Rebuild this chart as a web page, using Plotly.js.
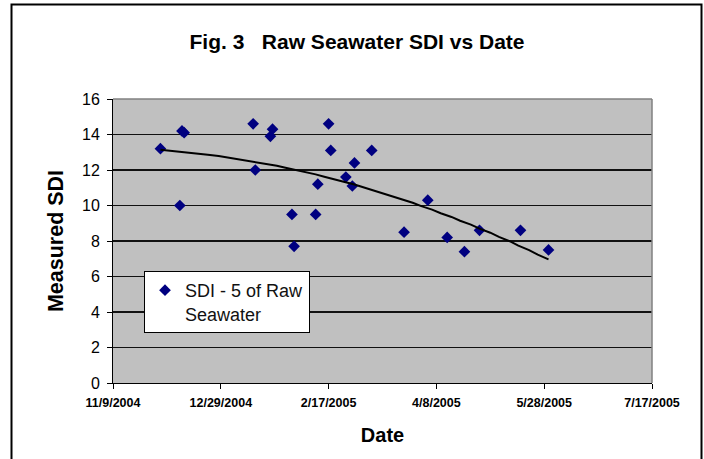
<!DOCTYPE html>
<html>
<head>
<meta charset="utf-8">
<script src="https://cdn.plot.ly/plotly-3.0.1.min.js"></script>
<style>
  html, body { margin: 0; padding: 0; background: #fff; }
  #chart { width: 704px; height: 459px; }
</style>
</head>
<body>
<div id="chart"></div>
<script>
// ---- data ----
const sampleDates = ['2004-12-01','2004-12-11','2004-12-12','2004-12-10','2005-01-13','2005-01-14',
  '2005-01-22','2005-01-21','2005-01-31','2005-02-01','2005-02-11','2005-02-12','2005-02-17',
  '2005-02-18','2005-02-25','2005-02-28','2005-03-01','2005-03-09','2005-03-24','2005-04-04',
  '2005-04-13','2005-04-21','2005-04-28','2005-05-17','2005-05-30'];
const sdiValues = [13.2,14.2,14.1,10.0,14.6,12.0,14.3,13.9,9.5,7.7,9.5,11.2,14.6,13.1,11.6,11.1,
  12.4,13.1,8.5,10.3,8.2,7.4,8.6,8.6,7.5];
const tickDates = ['2004-11-09','2004-12-29','2005-02-17','2005-04-08','2005-05-28','2005-07-17'];
const tickLabels = ['11/9/2004','12/29/2004','2/17/2005','4/8/2005','5/28/2005','7/17/2005'];
const seriesName = 'SDI - 5 of Raw<br>Seawater';

// ---- polynomial (order 2) trendline fitted to the data ----
const DAY = 86400000;
const t0 = Date.parse(sampleDates[0] + 'T00:00:00Z');
const xs = sampleDates.map(d => (Date.parse(d + 'T00:00:00Z') - t0) / DAY);
function polyfit(x, y, deg) {
  const n = deg + 1;
  const A = Array.from({length: n}, () => new Array(n + 1).fill(0));
  for (let i = 0; i < x.length; i++) {
    for (let r = 0; r < n; r++) {
      for (let c = 0; c < n; c++) A[r][c] += Math.pow(x[i], r + c);
      A[r][n] += y[i] * Math.pow(x[i], r);
    }
  }
  for (let p = 0; p < n; p++) {
    let m = p;
    for (let r = p + 1; r < n; r++) if (Math.abs(A[r][p]) > Math.abs(A[m][p])) m = r;
    [A[p], A[m]] = [A[m], A[p]];
    for (let r = 0; r < n; r++) {
      if (r === p) continue;
      const f = A[r][p] / A[p][p];
      for (let c = p; c <= n; c++) A[r][c] -= f * A[p][c];
    }
  }
  return A.map((row, i) => row[n] / row[i]);
}
const coef = polyfit(xs, sdiValues, 2);
const xMin = Math.min(...xs), xMax = Math.max(...xs);
const trendX = [], trendY = [];
const steps = 40;
for (let i = 0; i <= steps; i++) {
  const d = xMin + (xMax - xMin) * i / steps;
  trendX.push(new Date(t0 + d * DAY).toISOString().slice(0, 10));
  trendY.push(coef[0] + coef[1] * d + coef[2] * d * d);
}

// ---- plot geometry (pixels) ----
const W = 704, H = 459;
const M = {l: 113, r: 52, t: 99, b: 76};
const pw = W - M.l - M.r, ph = H - M.t - M.b;
const px = v => (v - M.l) / pw;          // pixel x -> paper
const py = v => (H - M.b - v) / ph;      // pixel y -> paper
const SANS = '"Liberation Sans", Arial, sans-serif';

const traces = [
  {
    x: sampleDates, y: sdiValues, type: 'scatter', mode: 'markers', name: seriesName,
    marker: {symbol: 'diamond', size: 9, color: '#000080'}
  },
  {
    x: trendX, y: trendY, type: 'scatter', mode: 'lines', showlegend: false, hoverinfo: 'skip',
    line: {color: '#000000', width: 2}
  }
];

const layout = {
  width: W, height: H,
  margin: M,
  paper_bgcolor: '#ffffff',
  plot_bgcolor: '#c0c0c0',
  showlegend: true,
  title: {
    text: '<b>Fig. 3&nbsp;&nbsp;&nbsp;Raw Seawater SDI vs Date</b>',
    font: {family: SANS, size: 21, color: '#000'},
    x: px(357), xref: 'paper', xanchor: 'center',
    y: 1 - 42 / H, yref: 'container', yanchor: 'middle'
  },
  xaxis: {
    type: 'date',
    range: [tickDates[0], tickDates[tickDates.length - 1]],
    tickmode: 'array', tickvals: tickDates, ticktext: tickLabels,
    ticks: 'outside', ticklen: 5, tickcolor: '#000', tickwidth: 1,
    showline: true, linecolor: '#000', linewidth: 1,
    showgrid: false, zeroline: false,
    tickfont: {family: SANS, size: 12.5, color: '#000', weight: 'bold'},
    ticklabelstandoff: 3,
    title: {
      text: '<b>Date</b>', standoff: 18,
      font: {family: SANS, size: 20, color: '#000'}
    },
    fixedrange: true
  },
  yaxis: {
    range: [0, 16], dtick: 2, tick0: 0,
    ticks: 'outside', ticklen: 5, tickcolor: '#000', tickwidth: 1,
    showline: true, linecolor: '#000', linewidth: 1,
    showgrid: true, gridcolor: '#111111', gridwidth: 1.5,
    zeroline: false,
    tickfont: {family: SANS, size: 16, color: '#000'},
    ticklabelstandoff: 4,
    title: {
      text: '<b>Measured SDI</b>', standoff: 12,
      font: {family: SANS, size: 21.5, color: '#000'}
    },
    fixedrange: true
  },
  legend: {
    x: px(144), y: py(271), xanchor: 'left', yanchor: 'top',
    bgcolor: '#ffffff', bordercolor: '#000000', borderwidth: 1,
    font: {family: SANS, size: 18, color: '#111'},
    valign: 'top',
    itemwidth: 30, tracegroupgap: 0
  },
  shapes: [
    // gray top and right edges of the plot area
    {type: 'line', xref: 'paper', yref: 'paper', x0: 0, x1: 1, y0: 1, y1: 1, layer: 'above',
     line: {color: '#808080', width: 1.5}},
    {type: 'line', xref: 'paper', yref: 'paper', x0: 1, x1: 1, y0: 0, y1: 1, layer: 'above',
     line: {color: '#808080', width: 1.5}},
    // outer chart frame
    {type: 'rect', xref: 'paper', yref: 'paper', x0: px(11.5), x1: px(701.5), y0: py(463), y1: py(4.5),
     layer: 'above', line: {color: '#000000', width: 2}, fillcolor: 'rgba(0,0,0,0)'}
  ]
};

Plotly.newPlot('chart', traces, layout, {staticPlot: true, displayModeBar: false});
</script>
</body>
</html>
